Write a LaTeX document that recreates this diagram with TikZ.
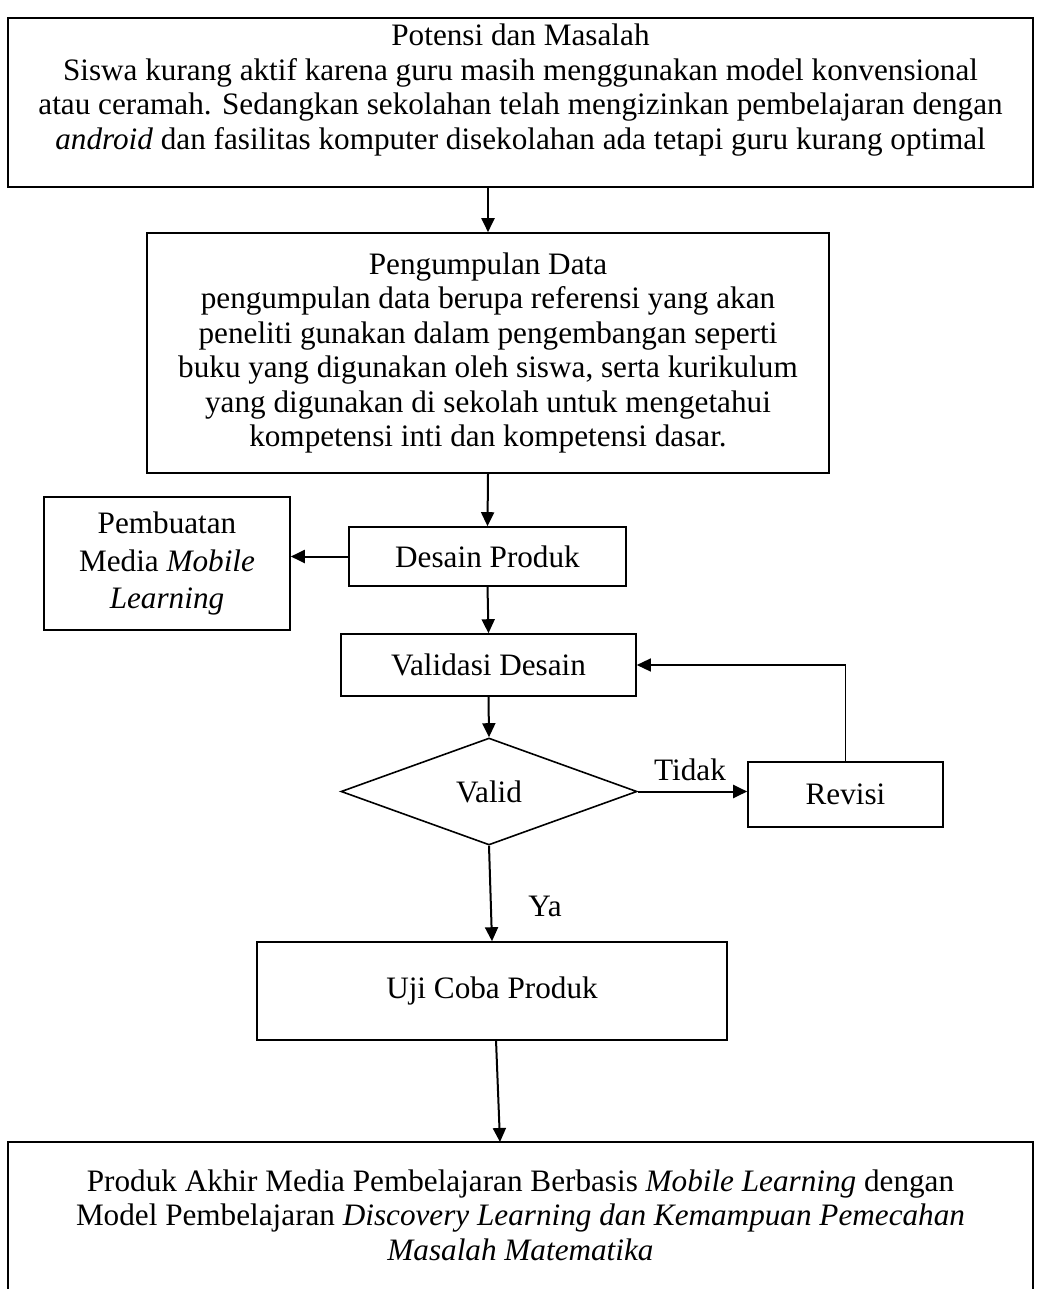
\documentclass[tikz,border=0pt]{standalone}
\usepackage{fontspec}
\setmainfont{Liberation Serif}
\usetikzlibrary{arrows.meta,shapes.geometric}
\begin{document}
\begin{tikzpicture}[x=0.5pt,y=-0.5pt,
  box/.style={draw,line width=0.8pt,inner sep=0pt,align=center},
  txt/.style={inner sep=0pt,align=center},
  arr/.style={line width=1pt,-{Triangle[length=7pt,width=6.5pt]}},
  thinarr/.style={line width=0.7pt,-{Triangle[length=7pt,width=6.5pt]}},
  lbl/.style={inner sep=0pt}]
\fontsize{15.6}{17.2}\selectfont
\useasboundingbox (0,0) rectangle (1039,1289);
\clip (0,0) rectangle (1039,1289);
% boxes
\node[box,line width=1.3pt,minimum width=512.5pt,minimum height=84.5pt] (top) at (520.5,102.5) {};
\node[txt] (toptext) at (520.5,90) {Potensi dan Masalah\\Siswa kurang aktif karena guru masih menggunakan model konvensional\\atau ceramah. Sedangkan sekolahan telah mengizinkan pembelajaran dengan\\\textit{android} dan fasilitas komputer disekolahan ada tetapi guru kurang optimal};
\node[box,minimum width=341pt,minimum height=120pt] (data) at (488,353) {Pengumpulan Data\\pengumpulan data berupa referensi yang akan\\peneliti gunakan dalam pengembangan seperti\\buku yang digunakan oleh siswa, serta kurikulum\\yang digunakan di sekolah untuk mengetahui\\kompetensi inti dan kompetensi dasar.};
\node[box,minimum width=123pt,minimum height=66.5pt] (media) at (167,563.5) {Pembuatan\\[1.5pt]Media \textit{Mobile}\\[1.5pt]\textit{Learning}};
\node[box,minimum width=138.5pt,minimum height=29.5pt] (desain) at (487.5,556.5) {Desain Produk};
\node[box,minimum width=147.5pt,minimum height=31pt] (validasi) at (488.5,665) {Validasi Desain};
\node[draw,line width=0.8pt,diamond,shape aspect=2.77,minimum width=148pt,minimum height=53.5pt,inner sep=0pt] (valid) at (489,791.5) {Valid};
\node[box,minimum width=97.5pt,minimum height=32.5pt] (revisi) at (845.5,794.5) {Revisi};
\node[box,minimum width=235pt,minimum height=49pt] (uji) at (492,991) {Uji Coba Produk};
\node[box,minimum width=512.5pt,minimum height=100pt] (final) at (520.5,1242) {};
\node[txt] (finaltext) at (520.5,1215) {Produk Akhir Media Pembelajaran Berbasis \textit{Mobile Learning} dengan\\Model Pembelajaran \textit{Discovery Learning dan Kemampuan Pemecahan}\\\textit{Masalah Matematika}};
% labels
\node[lbl] (tidak) at (690,770) {Tidak};
\node[lbl] (ya) at (545,906) {Ya};
% connectors
\coordinate (ujiout) at (496,1040);
\coordinate (finin) at (500,1142);
\draw[arr] (top.south -| data.north) -- (data.north);
\draw[arr] (data.south) -- (desain.north);
\draw[arr] (desain.west) -- (desain.west -| media.east);
\draw[arr] (desain.south) -- (validasi.north);
\draw[arr] (validasi.south) -- (valid.north);
\draw[arr] (valid.east) -- (valid.east -| revisi.west);
\draw[thinarr] (revisi.north) |- (validasi.east);
\draw[arr] (valid.south) -- (uji.north);
\draw[arr] (ujiout) -- (finin);
\end{tikzpicture}
\end{document}
